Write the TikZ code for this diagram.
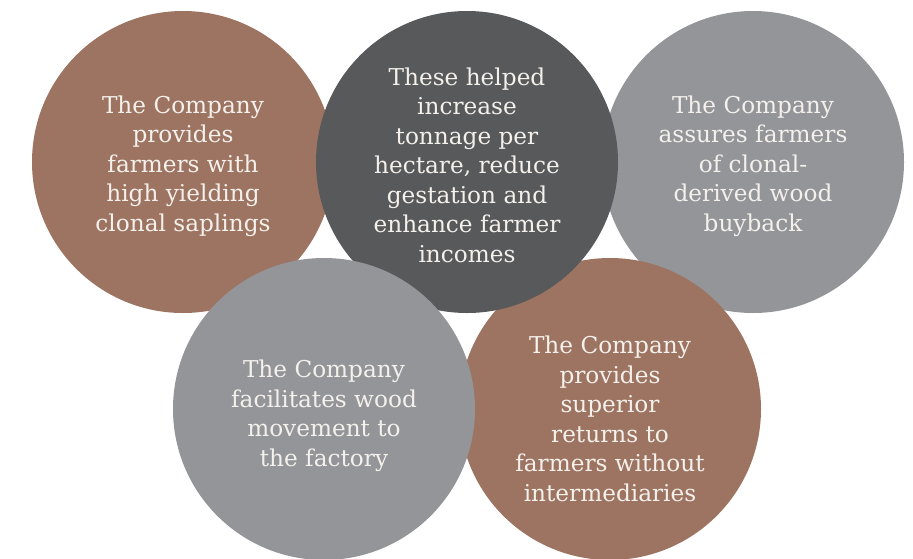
\documentclass[tikz,border=0pt]{standalone}
\usepackage{fontspec}
\setmainfont{DejaVu Serif}
\definecolor{clay}{HTML}{9D7461}
\definecolor{slate}{HTML}{58595B}
\definecolor{ash}{HTML}{939598}
\definecolor{chalk}{HTML}{F4F0EC}
\tikzset{
  blurb/.style={text=chalk,align=center,inner sep=0pt,font=\fontsize{23.2}{29.5}\selectfont},
}
\begin{document}
\begin{tikzpicture}[x=1pt,y=-1pt]
			\clip (0,0) rectangle (913,558);
			\coordinate (A) at (183,162);
			\coordinate (B) at (467,162);
			\coordinate (C) at (753,162);
			\coordinate (D) at (324,409);
			\coordinate (E) at (610,409);
			\fill[clay] (A) circle (151pt);
			\fill[ash] (C) circle (151pt);
			\fill[clay] (E) circle (151pt);
			\fill[slate] (B) circle (151pt);
			\fill[ash] (D) circle (151pt);
			\node[blurb] (a) at ([yshift=-4]A) {The Company\\provides\\farmers with\\high yielding\\clonal saplings};
			\node[blurb] (b) at ([yshift=-3]B) {These helped\\increase\\tonnage per\\hectare, reduce\\gestation and\\enhance farmer\\incomes};
			\node[blurb] (c) at ([yshift=-4]C) {The Company\\assures farmers\\of clonal-\\derived wood\\buyback};
			\node[blurb] (d) at ([yshift=-7]D) {The Company\\facilitates wood\\movement to\\the factory};
			\node[blurb] (e) at ([yshift=-10]E) {The Company\\provides\\superior\\returns to\\farmers without\\intermediaries};
		\end{tikzpicture}
\end{document}
